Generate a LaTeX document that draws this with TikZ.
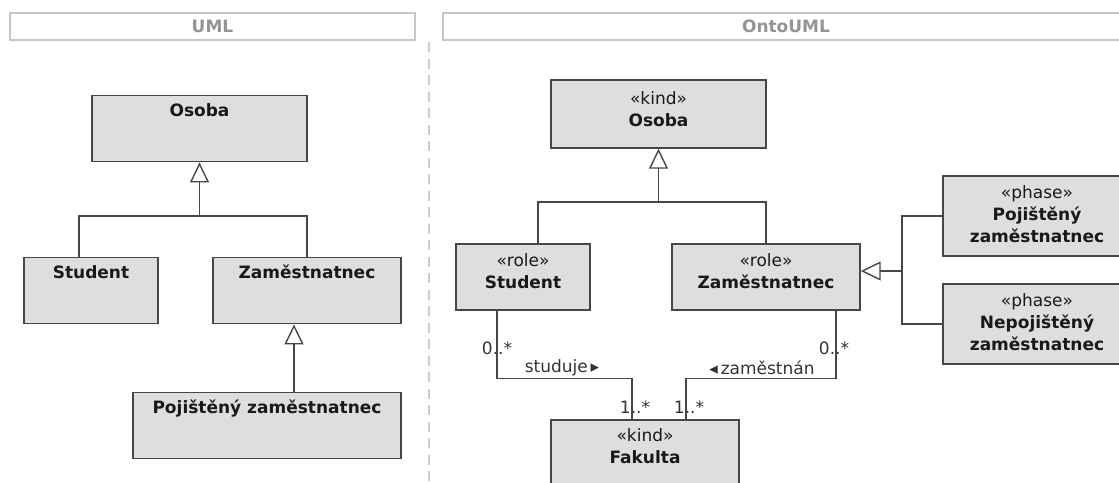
\documentclass[tikz,border=0pt]{standalone}
\usepackage{fontspec}
\setmainfont{DejaVu Sans}
\usetikzlibrary{arrows.meta, calc}

\begin{document}
\begin{tikzpicture}[x=1pt, y=-1pt,
            box/.style={draw=black!72, fill=black!13, line width=1.4pt, inner xsep=0pt, inner ysep=0pt,
                text=black!90, font=\fontsize{17}{22}\selectfont},
            ucls/.style={box, text height=21pt, text depth=45pt, font=\bfseries\fontsize{17}{22}\selectfont},
            ocls/.style={box, align=center, minimum height=66pt, execute at end node={\rule[-#1]{0pt}{#1}}},
            ocls/.default=10pt,
            hdr/.style={draw=black!22, line width=1.6pt, minimum height=27pt, inner sep=0pt,
                text=black!42, font=\bfseries\fontsize{17}{17}\selectfont},
            line/.style={draw=black!72, line width=1.4pt},
            gen/.style={line, -{Triangle[length=20pt, width=19pt, fill=white]}},
            mult/.style={text=black!80, inner sep=0pt, font=\fontsize{17}{17}\selectfont},
            divider/.style={draw=black!20, line width=2pt, dash pattern=on 10pt off 6.5pt}
        ]
            \useasboundingbox (0,0) rectangle (1119,482);

            \node[hdr, minimum width=405pt] (hdrUml) at (212.5,26.5) {UML};
            \node[hdr, minimum width=686pt] (hdrOnto) at (786,26.5) {OntoUML};
            \draw[divider] (429,42) -- (429,482);

            \node[ucls, minimum width=215pt] (osobaU) at (199.5,95) [anchor=north] {Osoba};
            \node[ucls, minimum width=134pt] (studentU) at (91,257) [anchor=north] {Student};
            \node[ucls, minimum width=188pt] (zamU) at (307,257) [anchor=north] {Zaměstnatnec};
            \node[ucls, minimum width=268pt] (pojU) at (267,392) [anchor=north] {Pojištěný zaměstnatnec};

            \coordinate (forkU) at (199.5,216);
            \draw[line] ([xshift=-12pt]studentU.north) |- (zamU.north |- forkU) -- (zamU.north);
            \draw[gen] (forkU) -- (osobaU.south);
            \draw[gen] ([xshift=27pt]pojU.north) -- ([xshift=27pt]pojU.north |- zamU.south);

            \node[ocls=9pt, minimum width=215pt, minimum height=68pt] (osobaO) at (658.5,114) {«kind»\\\textbf{Osoba}};
            \node[ocls=11pt, minimum width=134pt] (studentO) at (523,277) {«role»\\\textbf{Student}};
            \node[ocls=11pt, minimum width=188pt] (zamO) at (766,277) {«role»\\\textbf{Zaměstnatnec}};
            \node[ocls=13pt, minimum width=188pt] (fakulta) at (645,453) {«kind»\\\textbf{Fakulta}};
            \node[ocls=3pt, minimum width=188pt, minimum height=80pt] (phaseA) at (1037,216)
                {«phase»\\\textbf{Pojištěný}\\\textbf{zaměstnatnec}};
            \node[ocls=3pt, minimum width=188pt, minimum height=80pt] (phaseB) at (1037,324)
                {«phase»\\\textbf{Nepojištěný}\\\textbf{zaměstnatnec}};

            \coordinate (forkO) at (658.5,202);
            \draw[line] ([xshift=15pt]studentO.north) |- (zamO.north |- forkO) -- (zamO.north);
            \draw[gen] (forkO) -- (osobaO.south);

            \coordinate (forkP) at (902,271);
            \draw[line] (phaseA.west) -| (forkP) |- (phaseB.west);
            \draw[gen] (forkP) -- (forkP -| zamO.east);

            \node[mult] (multS) at (497,348) {0..*};
            \node[mult] (multZ) at (834,348) {0..*};
            \node[mult] (multFS) at (635,407) {1..*};
            \node[mult] (multFZ) at (689,407) {1..*};
            \node[mult] (studuje) at (562,368) {studuje\,▸};
            \node[mult] (zamestnan) at (762,368) {◂\,zaměstnán};

            \draw[line] ([xshift=-26pt]studentO.south) -- ++(0,68) -| ([xshift=-13pt]fakulta.north);
            \draw[line] ([xshift=70pt]zamO.south) -- ++(0,68) -| ([xshift=41pt]fakulta.north);
        \end{tikzpicture}
\end{document}
